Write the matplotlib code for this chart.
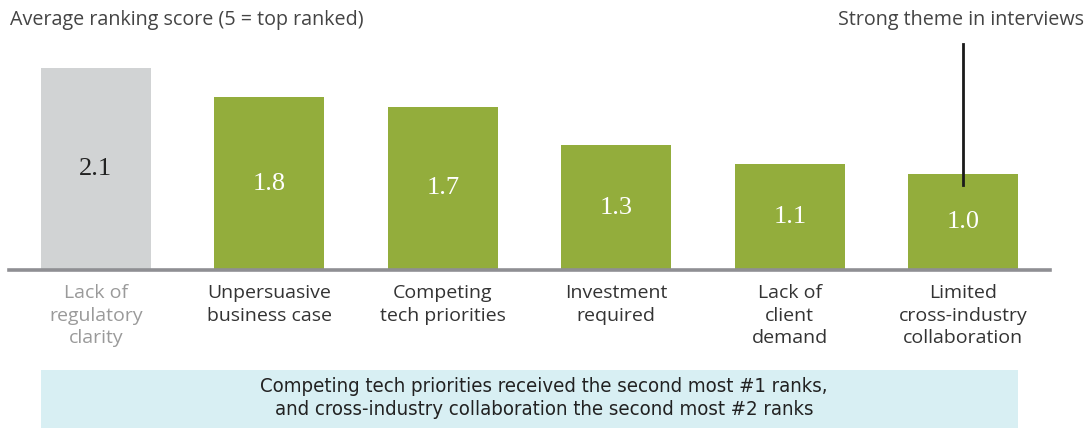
import matplotlib.pyplot as plt
from matplotlib.patches import Rectangle

# ranking data
categories = [
    "Lack of\nregulatory\nclarity",
    "Unpersuasive\nbusiness case",
    "Competing\ntech priorities",
    "Investment\nrequired",
    "Lack of\nclient\ndemand",
    "Limited\ncross-industry\ncollaboration",
]
scores = [2.1, 1.8, 1.7, 1.3, 1.1, 1.0]
highlight = 5  # "strong theme in interviews"

GREEN = "#93ad3c"
GREY_BAR = "#d1d3d4"
TEXT = "#333333"
SANS = ["Open Sans", "DejaVu Sans"]

W, H = 1090, 428
fig = plt.figure(figsize=(W / 100, H / 100), dpi=100)

base_y = 270
px_per_unit = 96
ymax = 2.2
ax = fig.add_axes([9 / W, (H - base_y) / H, 1041 / W, ymax * px_per_unit / H])
ax.set_xlim(-0.5, 5.5)
ax.set_ylim(0, ymax)

x = list(range(len(scores)))
colors = [GREY_BAR] + [GREEN] * (len(scores) - 1)
ax.bar(x, scores, width=0.634, color=colors, zorder=2)

for i, v in enumerate(scores):
    ax.text(i, v / 2, f"{v:.1f}", ha="center", va="center", fontsize=19,
            family=["Liberation Serif", "DejaVu Serif"],
            color="#222222" if i == 0 else "white", zorder=3)

for i, lab in enumerate(categories):
    ax.text(i, -0.15, lab, ha="center", va="top", fontsize=14, family=SANS,
            color="#9a9a9a" if i == 0 else TEXT, linespacing=1.32)

for s in ax.spines.values():
    s.set_visible(False)
ax.axhline(0, color="#8f8f93", lw=2.6, zorder=4, clip_on=False)
ax.set_xticks([])
ax.set_yticks([])

# callout line for the highlighted bar
ax.plot([highlight, highlight], [0.885, 2.35],
        color="#1a1a1a", lw=2, clip_on=False, zorder=5)

fig.text(10 / W, 1 - 20 / H, "Average ranking score (5 = top ranked)",
         ha="left", va="center", fontsize=14.2, family=SANS, color="#444444")
fig.text(1084 / W, 1 - 20 / H, "Strong theme in interviews",
         ha="right", va="center", fontsize=14.2, family=SANS, color="#444444")

# takeaway box
fig.patches.append(Rectangle((41 / W, 0), 977 / W, 58 / H,
                             transform=fig.transFigure, facecolor="#d8eff3",
                             edgecolor="none", zorder=0))
fig.text(544 / W, 1 - 398 / H,
         "Competing tech priorities received the second most #1 ranks,\n"
         "and cross-industry collaboration the second most #2 ranks",
         ha="center", va="center", fontsize=14.6, linespacing=1.3,
         family="DejaVu Sans", fontstretch="condensed", color="#222222")

fig.savefig("out.png", dpi=100, facecolor="white")
